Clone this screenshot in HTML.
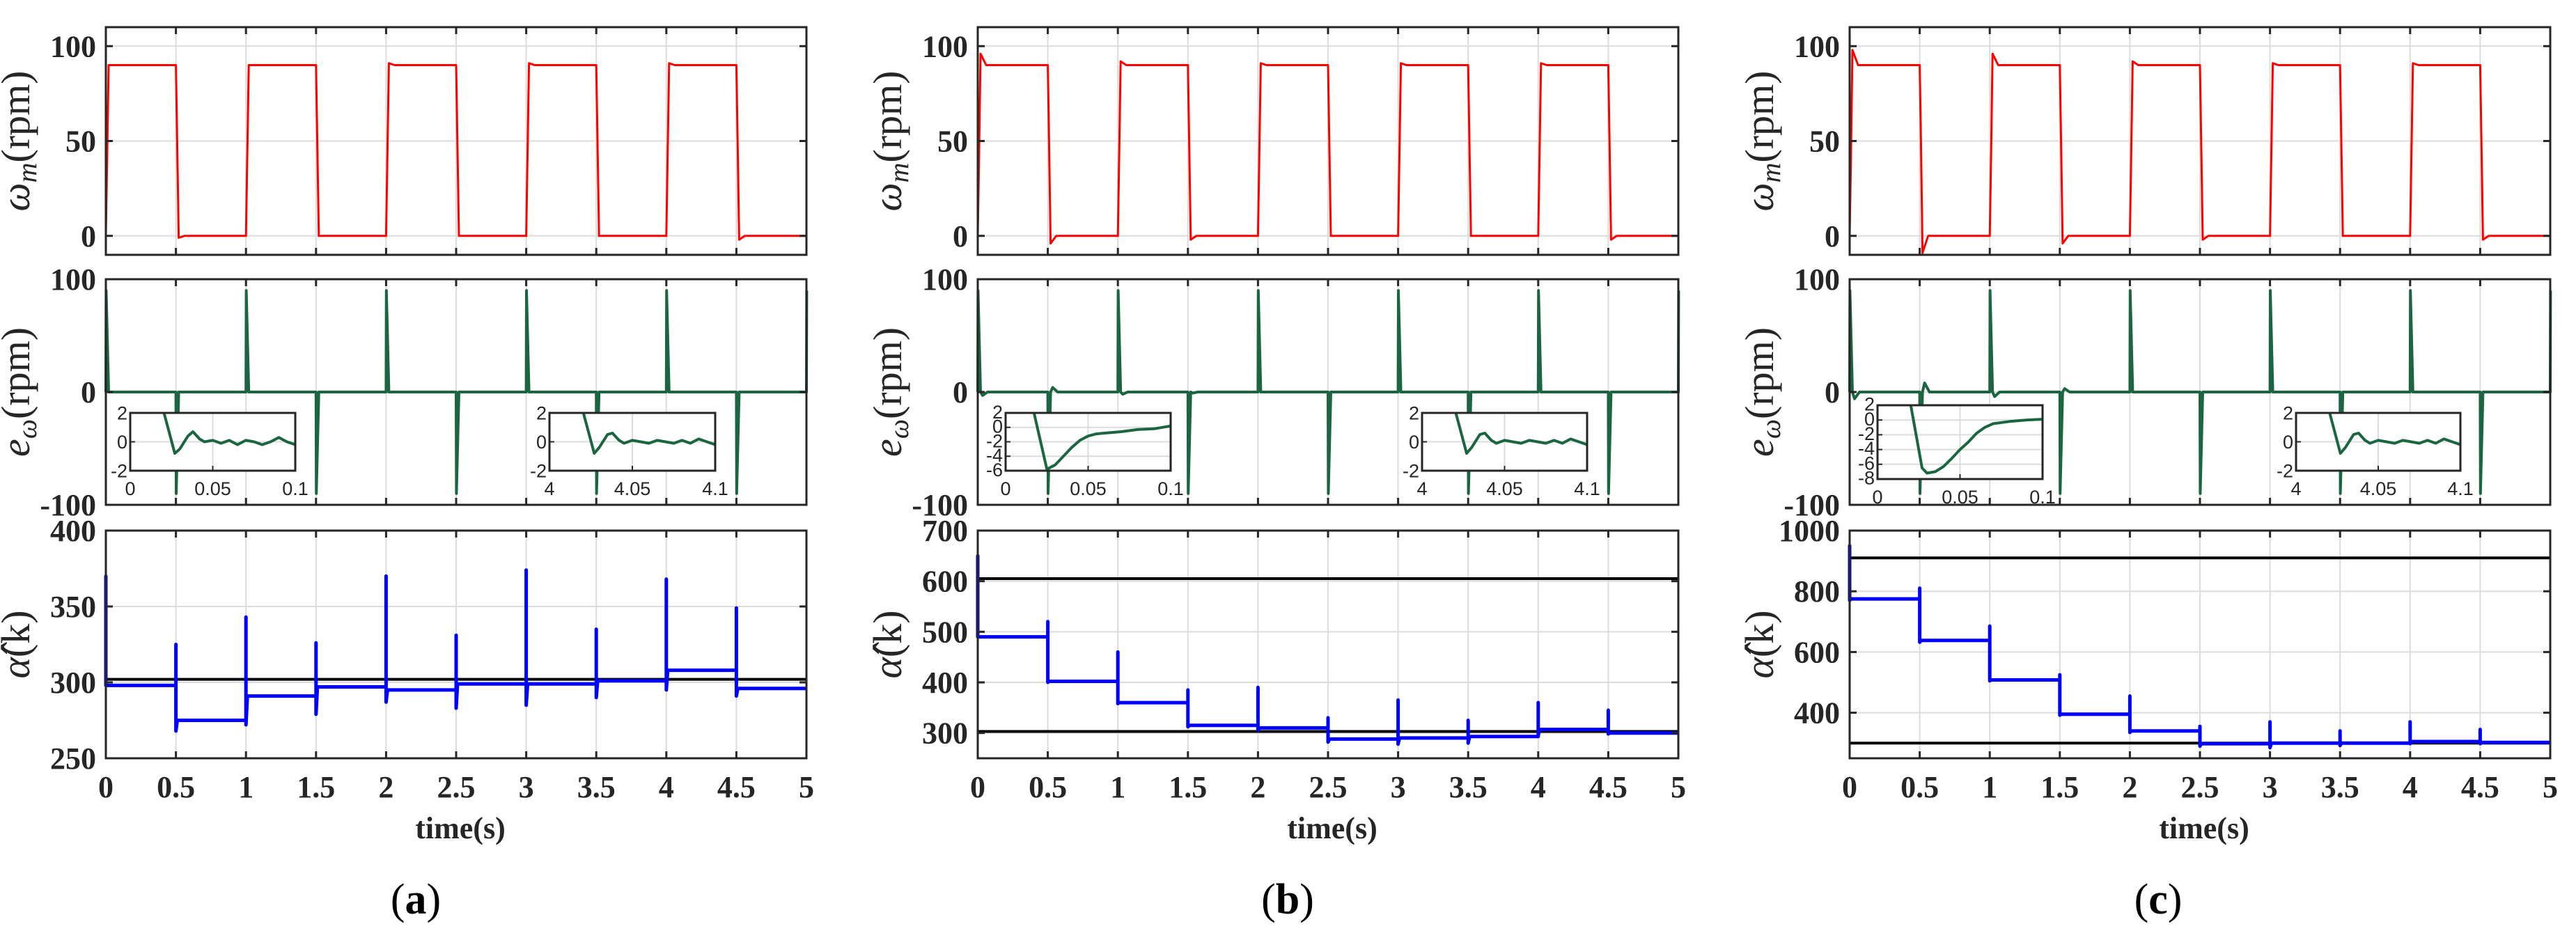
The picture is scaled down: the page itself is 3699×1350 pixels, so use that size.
<!DOCTYPE html>
<html><head><meta charset="utf-8"><style>
html,body{margin:0;padding:0;background:#fff;}
svg{display:block;}
.tk{font-family:"Liberation Serif",serif;font-weight:bold;font-size:44px;fill:#262626;}
.it{font-family:"Liberation Sans",sans-serif;font-size:27px;fill:#262626;}
.yl{font-family:"Liberation Serif",serif;font-size:58px;fill:#262626;}
</style></head><body>
<svg id="fig" width="3699" height="1350" xmlns="http://www.w3.org/2000/svg"></svg>
<script>
// ---- data ----
const timeTicks=[0,0.5,1,1.5,2,2.5,3,3.5,4,4.5,5];
const timeTickLabels=["0","0.5","1","1.5","2","2.5","3","3.5","4","4.5","5"];
const segStarts=[0,0.5,1,1.5,2,2.5,3,3.5,4,4.5];
const speedLevels=[90,0,90,0,90,0,90,0,90,0];
const aSpeedPeaks=[90,-1,90,0,91,0,91,0,91,-2];
const bSpeedPeaks=[96,-4,92,-2,91,0,91,0,91,-2];
const cSpeedPeaks=[98,-9,96,-4,92,-2,91,0,91,-2];
const errTimes=[0,0.5,1,1.5,2,2.5,3,3.5,4,4.5,5];
const errSpikes=[90,-90,90,-90,90,-90,90,-90,90,-90,90];
const aErrPost=[0,0,0,0,0,0,0,0,0,0,0];
const bErrPost=[-3,4,-2,-1,0,0,0,0,0,0,0];
const cErrPost=[-6,8,-4,3,0,0,0,0,0,0,0];
const aAlphaSteps=[298,275,291,297,295,299,299,301,308,296];
const aAlphaUp=[370,325,343,326,370,331,374,335,368,349];
const aAlphaDown=[298,268,272,279,287,283,285,290,295,291];
const aAlphaRefs=[302];
const bAlphaSteps=[490,402,360,315,310,288,290,293,307,300];
const bAlphaUp=[650,520,460,385,390,330,365,325,360,345];
const bAlphaDown=[490,400,358,312,305,282,278,280,295,298];
const bAlphaRefs=[605,303];
const cAlphaSteps=[775,638,508,395,340,298,300,300,305,302];
const cAlphaUp=[950,810,685,525,455,355,370,340,370,345];
const cAlphaDown=[770,632,505,392,335,290,285,292,298,298];
const cAlphaRefs=[910,300];
const insetT1=[0.02,0.027,0.03,0.035,0.038,0.042,0.045,0.05,0.055,0.06,0.065,0.07,0.075,0.08,0.085,0.09,0.095,0.1];
const aInsetL=[2.2,-0.8,-0.5,0.4,0.7,0.2,0.0,0.1,-0.1,0.1,-0.2,0.1,0.0,-0.2,0.0,0.3,0.0,-0.2];
const insetR=[2.2,-0.8,-0.4,0.5,0.6,0.1,-0.1,0.1,0.0,-0.1,0.1,0.0,-0.1,0.1,-0.1,0.2,0.0,-0.2];
const insetTb=[0.017,0.025,0.03,0.035,0.04,0.045,0.05,0.055,0.06,0.07,0.08,0.09,0.1];
const bInsetL=[2.2,-5.8,-5.2,-4,-2.8,-1.8,-1.2,-0.9,-0.8,-0.6,-0.3,-0.2,0.2];
const insetTc=[0.02,0.027,0.03,0.035,0.04,0.045,0.05,0.055,0.06,0.065,0.07,0.08,0.09,0.1];
const cInsetL=[2.2,-6.5,-7.2,-7,-6.3,-5.2,-4,-3,-1.8,-1,-0.5,-0.2,0,0.1];

const NS="http://www.w3.org/2000/svg";
const fig=document.getElementById('fig');
function mk(tag,attrs,parent){const e=document.createElementNS(NS,tag);for(const k in attrs)e.setAttribute(k,attrs[k]);(parent||fig).appendChild(e);return e;}

const Y0=[39,366],Y1=[401,725],Y2=[762,1089];
function scale(d0,d1,r0,r1){return v=>r0+(v-d0)*(r1-r0)/(d1-d0);}

function axesBox(g,x0,x1,y0,y1,xticks,yticks,ys,xs){
  for(const t of xticks){const x=xs(t);const l=mk('line',{x1:x,x2:x,y1:y0,y2:y1,stroke:'#dcdcdc','stroke-width':2},g);}
  for(const v of yticks){const y=ys(v);const l=mk('line',{x1:x0,x2:x1,y1:y,y2:y,stroke:'#dcdcdc','stroke-width':2},g);}
}
function frame(g,x0,x1,y0,y1,xticks,yticks,ys,xs,ylabels){
  const r=mk('rect',{x:x0,y:y0,width:x1-x0,height:y1-y0,fill:'none',stroke:'#262626','stroke-width':3},g);
  
  for(const t of xticks){const x=xs(t);mk('line',{x1:x,x2:x,y1:y1,y2:y1-10,stroke:'#262626','stroke-width':3},g);mk('line',{x1:x,x2:x,y1:y0,y2:y0+10,stroke:'#262626','stroke-width':3},g);}
  yticks.forEach((v,i)=>{const y=ys(v);mk('line',{x1:x0,x2:x0+10,y1:y,y2:y,stroke:'#262626','stroke-width':3},g);mk('line',{x1:x1,x2:x1-10,y1:y,y2:y,stroke:'#262626','stroke-width':3},g);
    if(ylabels&&ylabels[i]!==null){const t=mk('text',{x:x0-14,y:y+15,'text-anchor':'end',class:'tk'},g);t.textContent=ylabels[i];}});
}
function path(g,pts,color,w,name){const d=pts.map((p,i)=>(i?'L':'M')+p[0].toFixed(1)+' '+p[1].toFixed(1)).join(' ');const p=mk('path',{d:d,fill:'none',stroke:color,'stroke-width':w,'stroke-linejoin':'round'},g);return p;}

function ylabel(g,x,yc,main,sub,rest){
  const t=mk('text',{transform:`translate(${x},${yc}) rotate(-90)`,'text-anchor':'middle',class:'yl'},g);
  
  const a=mk('tspan',{'font-style':'italic'},t);a.textContent=main;
  if(sub){const s=mk('tspan',{'font-style':'italic','font-size':'40px',dy:'10'},t);s.textContent=sub;const r=mk('tspan',{dy:'-10'},t);r.textContent=rest;}
  else{const r=mk('tspan',{},t);r.textContent=rest;}
}

function inset(g,x0,x1,y0,y1,tOff,ts,vals,ymin,yticks,fs,xlabels){
  const bg=mk('rect',{x:x0,y:y0,width:x1-x0,height:y1-y0,fill:'#fff'},g);
  
  const xs=scale(tOff,tOff+0.1,x0,x1), ys=scale(ymin,2,y1,y0);
  const xt=[tOff,tOff+0.05,tOff+0.1];
  axesBox(g,x0,x1,y0,y1,xt,yticks,ys,xs);
  const clipId='c'+Math.round(x0);
  const cp=mk('clipPath',{id:clipId},g);mk('rect',{x:x0,y:y0,width:x1-x0,height:y1-y0},cp);
  const pts=ts.map((t,i)=>[xs(tOff+t),ys(vals[i])]);
  const p=path(g,pts,'#1b6640',4,'inset-error-line');p.setAttribute('clip-path',`url(#${clipId})`);
  const r=mk('rect',{x:x0,y:y0,width:x1-x0,height:y1-y0,fill:'none',stroke:'#262626','stroke-width':3},g);
  
  for(const t of xt){const x=xs(t);mk('line',{x1:x,x2:x,y1:y1,y2:y1-7,stroke:'#262626','stroke-width':2},g);}
  for(const v of yticks){const y=ys(v);mk('line',{x1:x0,x2:x0+7,y1:y,y2:y,stroke:'#262626','stroke-width':2},g);
    const t=mk('text',{x:x0-4,y:y+fs*0.36,'text-anchor':'end',class:'it','font-size':fs},g);t.textContent=String(v);}
  xt.forEach((t,i)=>{const e=mk('text',{x:xs(t),y:y1+35,'text-anchor':'middle',class:'it'},g);e.textContent=xlabels[i];});
}

function panel(key,x0,letter,peaks,post,steps,up,down,refs,alphaMax,alphaTicks,alphaLabels,insets){
  const x1=x0+1006;
  const g=mk('g',{});
  const xs=scale(0,5,x0,x1);
  const ys0=scale(-10,110,Y0[1],Y0[0]);
  axesBox(g,x0,x1,Y0[0],Y0[1],timeTicks,[0,50,100],ys0,xs);
  let pts=[[xs(0),ys0(0)]];
  segStarts.forEach((s,i)=>{const lv=speedLevels[i],pk=peaks[i];pts.push([xs(s+0.01),ys0((lv+(i?speedLevels[i-1]:0))/2)]);pts.push([xs(s+0.02),ys0(pk)]);pts.push([xs(s+0.06),ys0(lv)]);const e=i<segStarts.length-1?segStarts[i+1]:5;pts.push([xs(e),ys0(lv)]);});
  path(g,pts,'#ff0000',3,'speed-line');
  frame(g,x0,x1,Y0[0],Y0[1],timeTicks,[0,50,100],ys0,xs,["0","50","100"]);
  ylabel(g,x0-110,(Y0[0]+Y0[1])/2,'ω','m','(rpm)');
  const ys1=scale(-100,100,Y1[1],Y1[0]);
  axesBox(g,x0,x1,Y1[0],Y1[1],timeTicks,[-100,0,100],ys1,xs);
  pts=[];
  errTimes.forEach((t,i)=>{pts.push([xs(t),ys1(0)]);pts.push([xs(t+0.002),ys1(errSpikes[i])]);pts.push([xs(t+0.02),ys1(0)]);pts.push([xs(t+0.035),ys1(post[i])]);pts.push([xs(t+0.07),ys1(0)]);});
  pts=pts.filter(p=>p[0]<=x1+0.5);
  path(g,pts,'#1b6640',4,'error-line');
  frame(g,x0,x1,Y1[0],Y1[1],timeTicks,[-100,0,100],ys1,xs,["-100","0","100"]);
  ylabel(g,x0-110,(Y1[0]+Y1[1])/2,'e','ω','(rpm)');
  insets.forEach(a=>inset(g,x0+a[0],x0+a[1],a[2],a[3],a[4],a[5],a[6],a[7],a[8],a[9],a[10]));
  const ys2=scale(250,alphaMax,Y2[1],Y2[0]);
  axesBox(g,x0,x1,Y2[0],Y2[1],timeTicks,alphaTicks,ys2,xs);
  refs.forEach(r=>{const l=mk('line',{x1:x0,x2:x1,y1:ys2(r),y2:ys2(r),stroke:'#000','stroke-width':4},g);});
  pts=[];
  segStarts.forEach((s,i)=>{pts.push([xs(s),ys2(i?steps[i-1]:steps[0])]);pts.push([xs(s),ys2(up[i])]);pts.push([xs(s),ys2(down[i])]);pts.push([xs(s+0.01),ys2(steps[i])]);const e=i<segStarts.length-1?segStarts[i+1]:5;pts.push([xs(e),ys2(steps[i])]);});
  path(g,pts,'#0000ff',5,'alpha-estimate-line');
  frame(g,x0,x1,Y2[0],Y2[1],timeTicks,alphaTicks,ys2,xs,alphaLabels);
  ylabel(g,x0-110,(Y2[0]+Y2[1])/2,'α̂','','(k)');
  timeTicks.forEach((t,i)=>{const e=mk('text',{x:xs(t),y:1145,'text-anchor':'middle',class:'tk'},g);e.textContent=timeTickLabels[i];});
  const xl=mk('text',{x:(x0+x1)/2+6,y:1204,'text-anchor':'middle',class:'tk','font-size':'50'},g);xl.textContent='time(s)';
  const cap=mk('text',{x:(x0+x1)/2-58+(key==='c'?-2:0),y:1312,'text-anchor':'middle','font-family':'"Liberation Serif",serif','font-size':'62',fill:'#000'},g);
  
  const c1=mk('tspan',{},cap);c1.textContent='(';const c2=mk('tspan',{'font-weight':'bold'},cap);c2.textContent=letter;const c3=mk('tspan',{},cap);c3.textContent=')';
}

panel('a',152,'a',aSpeedPeaks,aErrPost,aAlphaSteps,aAlphaUp,aAlphaDown,aAlphaRefs,400,[250,300,350,400],["250","300","350","400"],
 [[35,272,593,676,0,insetT1,aInsetL,-2,[2,0,-2],27,["0","0.05","0.1"]],[637,875,593,676,4,insetT1,insetR,-2,[2,0,-2],27,["4","4.05","4.1"]]]);
panel('b',1404,'b',bSpeedPeaks,bErrPost,bAlphaSteps,bAlphaUp,bAlphaDown,bAlphaRefs,700,[250,300,400,500,600,700],[null,"300","400","500","600","700"],
 [[40,277,593,676,0,insetTb,bInsetL,-6,[2,0,-2,-4,-6],22,["0","0.05","0.1"]],[638,875,593,676,4,insetT1,insetR,-2,[2,0,-2],27,["4","4.05","4.1"]]]);
panel('c',2656,'c',cSpeedPeaks,cErrPost,cAlphaSteps,cAlphaUp,cAlphaDown,cAlphaRefs,1000,[400,600,800,1000],["400","600","800","1000"],
 [[40,277,582,688,0,insetTc,cInsetL,-8,[2,0,-2,-4,-6,-8],21,["0","0.05","0.1"]],[641,877,593,676,4,insetT1,insetR,-2,[2,0,-2],27,["4","4.05","4.1"]]]);
</script>
</body></html>
